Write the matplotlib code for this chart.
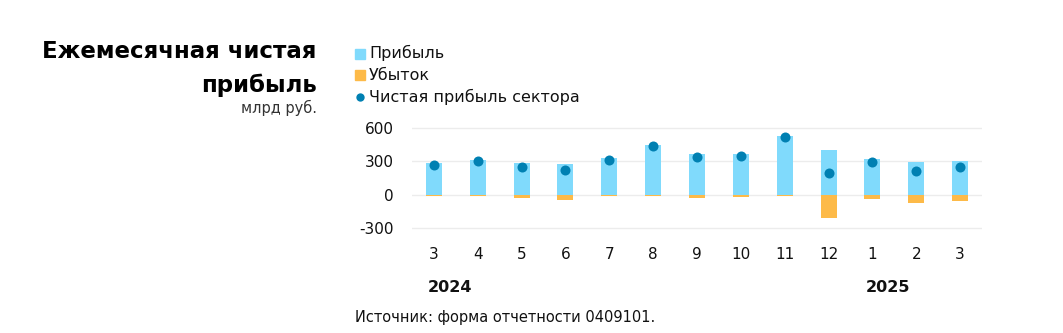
import numpy as np
import matplotlib.pyplot as plt

plt.rcParams['font.family'] = ['DejaVu Sans']

months = ['3', '4', '5', '6', '7', '8', '9', '10', '11', '12', '1', '2', '3']
years = ['2024', '2025']
year_pos = [0, 10]
profit = [289, 315, 285, 276, 330, 450, 366, 368, 533, 405, 324, 293, 304]
loss = [-15, -15, -33, -48, -15, -12, -27, -18, -12, -213, -36, -75, -55]
net = [270, 303, 246, 225, 312, 441, 336, 350, 517, 192, 291, 216, 248]

c_profit = '#80dafc'
c_loss = '#fdba48'
c_net = '#0080b2'
c_text = '#111111'

fig = plt.figure(figsize=(10.63, 3.33), dpi=100)
ax = fig.add_axes([0.3876, 0.3054, 0.5362, 0.320])

x = np.arange(len(months))
ax.bar(x, profit, width=0.365, color=c_profit, zorder=2)
ax.bar(x, loss, width=0.365, color=c_loss, zorder=2)
ax.scatter(x, net, s=52, color=c_net, zorder=3, linewidths=0)

ax.set_xlim(-0.5, 12.5)
ax.set_ylim(-330, 630)
ax.set_yticks([-300, 0, 300, 600])
ax.set_yticklabels(['-300', '0', '300', '600'])
ax.grid(axis='y', color='#ececec', linewidth=1, zorder=0)
ax.set_xticks(x)
ax.set_xticklabels(months)
ax.tick_params(axis='both', length=0, labelsize=11, colors=c_text)
ax.tick_params(axis='y', pad=13)
ax.tick_params(axis='x', pad=11)
for s in ax.spines.values():
    s.set_visible(False)

# years under the month labels
for yr, p in zip(years, year_pos):
    ax.text(p - 0.15, -0.567, yr, transform=ax.get_xaxis_transform(),
            ha='left', va='baseline', fontsize=11.5, fontweight='bold',
            color=c_text)

# title block
fig.text(0.298, 0.826, 'Ежемесячная чистая', ha='right', va='baseline',
         fontsize=16.5, fontweight='bold', color='black')
fig.text(0.298, 0.724, 'прибыль', ha='right', va='baseline',
         fontsize=16.5, fontweight='bold', color='black')
fig.text(0.298, 0.661, 'млрд руб.', ha='right', va='baseline',
         fontsize=10.5, color='#333333')

# legend
fig.patches.append(plt.Rectangle((355 / 1063, 1 - 59 / 333), 10 / 1063, 10 / 333,
                                 color=c_profit, transform=fig.transFigure,
                                 figure=fig))
fig.text(369 / 1063, 0.825, 'Прибыль', va='baseline', fontsize=11.5,
         color=c_text)
fig.patches.append(plt.Rectangle((355 / 1063, 1 - 80 / 333), 10 / 1063, 10 / 333,
                                 color=c_loss, transform=fig.transFigure,
                                 figure=fig))
fig.text(369 / 1063, 0.760, 'Убыток', va='baseline', fontsize=11.5,
         color=c_text)
fig.lines.append(plt.Line2D([360 / 1063], [1 - 97 / 333], marker='o',
                            markersize=6, color=c_net, markeredgewidth=0,
                            transform=fig.transFigure, figure=fig))
fig.text(369 / 1063, 0.695, 'Чистая прибыль сектора', va='baseline',
         fontsize=11.5, color=c_text)

fig.text(355 / 1063, 0.034, 'Источник: форма отчетности 0409101.',
         va='baseline', fontsize=10.5, color=c_text)

fig.savefig('out.png', dpi=100, facecolor='white')
